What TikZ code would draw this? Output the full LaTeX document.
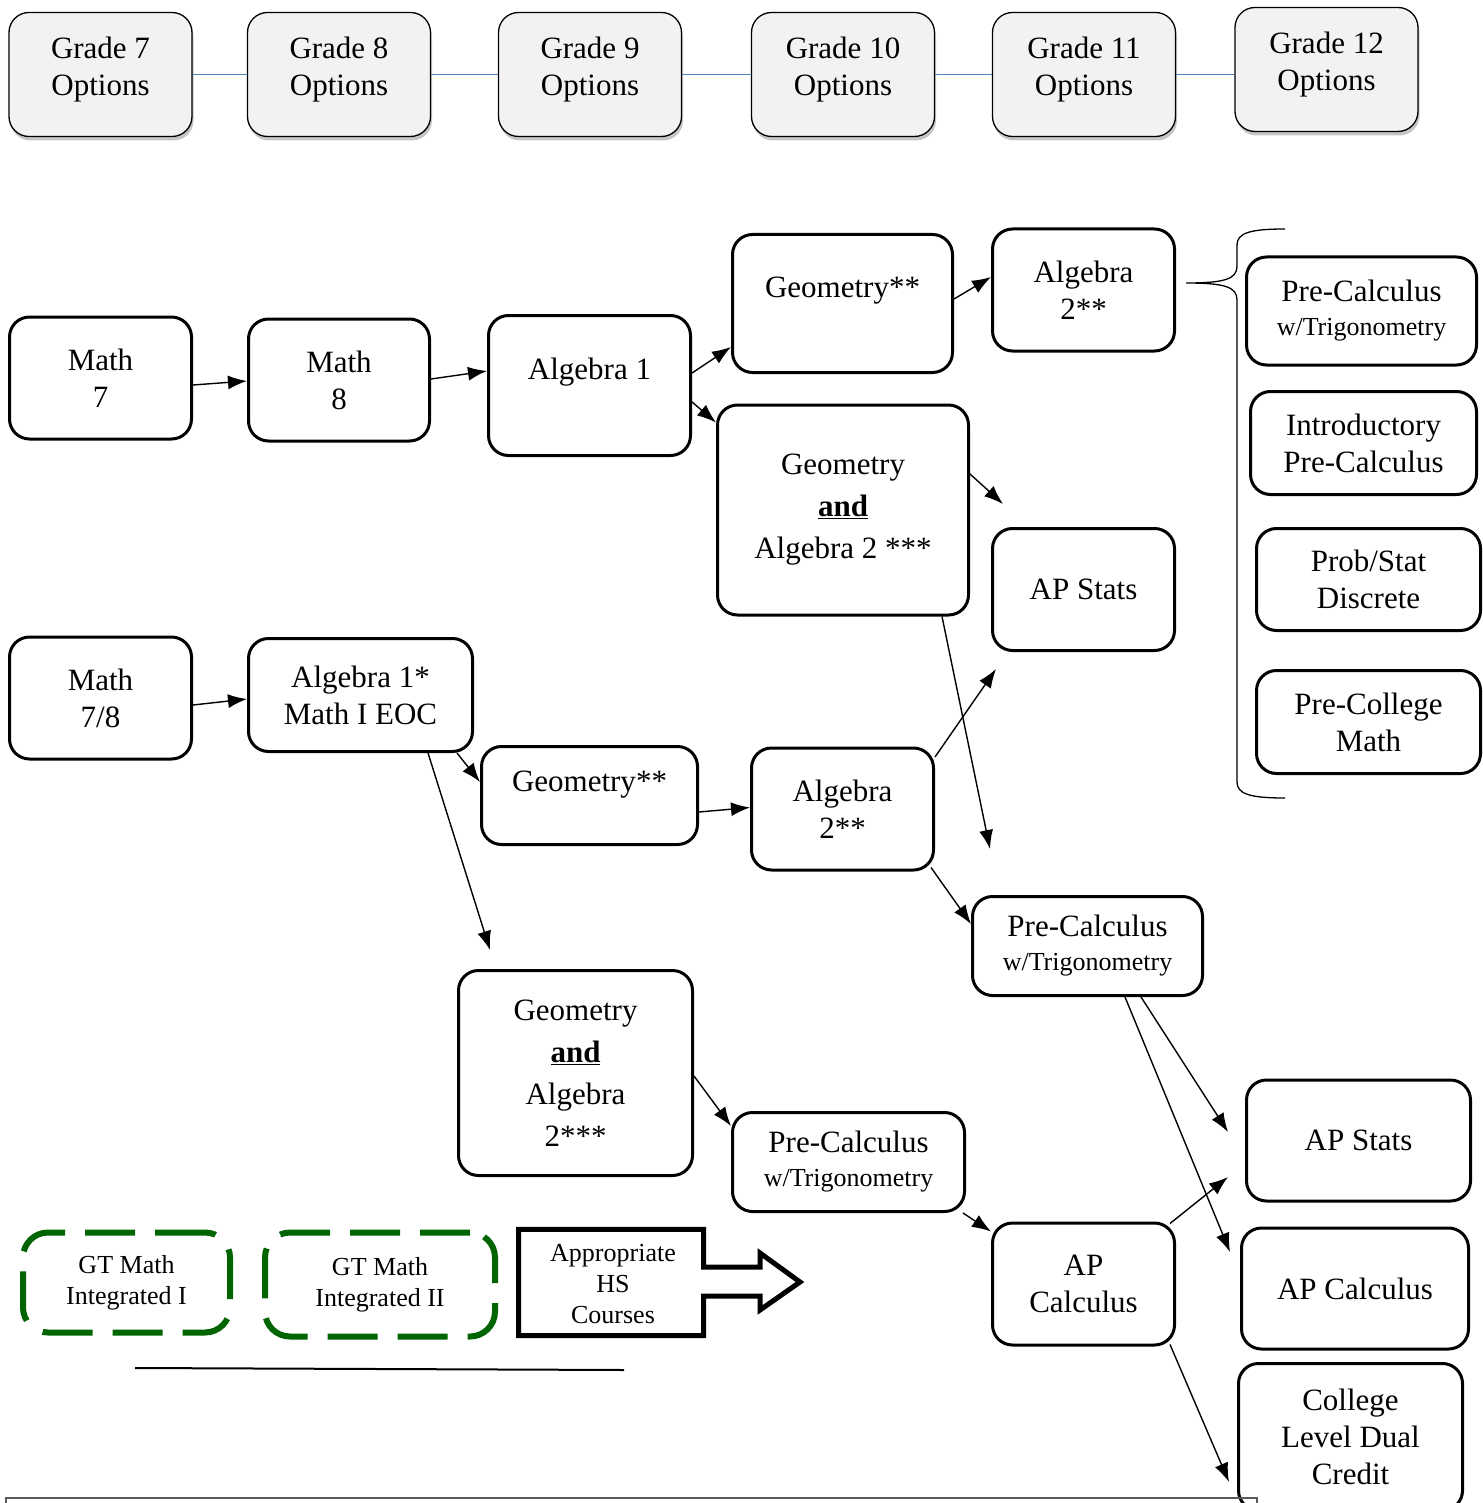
\documentclass[tikz,border=0pt]{standalone}
\usepackage{fontspec}
\setmainfont{Liberation Serif}
\usetikzlibrary{arrows.meta,shadows}
\definecolor{optfill}{RGB}{242,242,242}
\definecolor{optline}{RGB}{79,129,189}
\definecolor{gtgreen}{RGB}{0,100,0}
\newcommand{\bigfont}{\fontsize{31}{37}\selectfont}
\newcommand{\tallfont}{\fontsize{31}{42}\selectfont}
\newcommand{\smallfont}{\fontsize{26}{31}\selectfont}
\tikzset{
  boxsize/.style 2 args={minimum width=#1pt,minimum height=#2pt},
  grade/.style={draw,line width=1.3pt,fill=optfill,rounded corners=20pt,
    drop shadow={shadow xshift=1.5pt,shadow yshift=-4pt,fill=black!45},
    boxsize={183}{124},align=center,font=\bigfont,text depth=17pt},
  course/.style={draw,line width=3pt,rounded corners=20pt,align=center,font=\bigfont},
  gtbox/.style={draw=gtgreen,line width=6pt,dash pattern=on 50pt off 20pt,
    rounded corners=25pt,align=center,font=\smallfont},
  link/.style={->,line width=1.4pt},
}
\begin{document}
\begin{tikzpicture}[x=1pt,y=-1pt,>={Latex[length=19pt,width=14pt]}]
  \useasboundingbox (0,0) rectangle (1482,1503);
  % grade headers
  \node[grade] (g7) at (100.5,74.5) {Grade 7\\Options};
  \node[grade] (g8) at (339,74.5) {Grade 8\\Options};
  \node[grade] (g9) at (590,74.5) {Grade 9\\Options};
  \node[grade] (g10) at (843,74.5) {Grade 10\\Options};
  \node[grade] (g11) at (1084,74.5) {Grade 11\\Options};
  \node[grade] (g12) at (1326.5,69.5) {Grade 12\\Options};
  \draw[optline,line width=1.8pt] (g7.east) -- (g8.west);
  \draw[optline,line width=1.8pt] (g8.east) -- (g9.west);
  \draw[optline,line width=1.8pt] (g9.east) -- (g10.west);
  \draw[optline,line width=1.8pt] (g10.east) -- (g11.west);
  \draw[optline,line width=1.8pt] (g11.east) -- (g11.east -| g12.west);
  % upper track
  \node[course,boxsize={182}{122}] (math7) at (100.5,378) {Math\\7};
  \node[course,boxsize={181}{122}] (math8) at (339,380) {Math\\8};
  \node[course,boxsize={202}{140},text depth=33pt] (alg1) at (589.5,385.5) {Algebra 1};
  \node[course,boxsize={220}{138},text depth=33pt] (geoA) at (842.5,303.5) {Geometry**};
  \node[course,boxsize={182}{122}] (algA) at (1083.5,290) {Algebra\\2**};
  \node[course,boxsize={251}{210},font=\tallfont] (geoalgA) at (843,510)
    {Geometry\\\underline{\textbf{and}}\\Algebra 2 ***};
  \node[course,boxsize={182}{122}] (apsA) at (1083.5,589.5) {AP Stats};
  % grade 12 choices
  \node[course,boxsize={230}{108}] (pcR) at (1361.5,311)
    {Pre-Calculus\\[-3pt]{\smallfont w/Trigonometry}};
  \node[course,boxsize={226}{103}] (introR) at (1363.5,443) {Introductory\\Pre-Calculus};
  \node[course,boxsize={224}{102}] (probR) at (1368.5,579.5) {Prob/Stat\\Discrete};
  \node[course,boxsize={224}{103}] (pcolR) at (1368.5,722) {Pre-College\\Math};
  \draw[line width=1.3pt] (1285,229) .. controls (1250,229) and (1237,233) .. (1237,245)
    -- (1237,266) .. controls (1237,279) and (1225,283) .. (1186,283)
    .. controls (1225,283) and (1237,287) .. (1237,300)
    -- (1237,782) .. controls (1237,794) and (1250,798) .. (1285,798);
  % lower track
  \node[course,boxsize={182}{122}] (math78) at (100.5,698) {Math\\7/8};
  \node[course,boxsize={224}{113}] (alg1s) at (360.5,695) {Algebra 1*\\Math I EOC};
  \node[course,boxsize={216}{98},text depth=29pt] (geoB) at (589.5,795.5) {Geometry**};
  \node[course,boxsize={182}{122}] (algB) at (842.5,809) {Algebra\\2**};
  \node[course,boxsize={230}{99}] (pcB) at (1087.5,946)
    {Pre-Calculus\\[-3pt]{\smallfont w/Trigonometry}};
  \node[course,boxsize={234}{205},font=\tallfont] (geoalgB) at (575.5,1073)
    {Geometry\\\underline{\textbf{and}}\\Algebra\\2***};
  \node[course,boxsize={232}{99}] (pcC) at (848.5,1162)
    {Pre-Calculus\\[-3pt]{\smallfont w/Trigonometry}};
  \node[course,boxsize={182}{122}] (apcA) at (1083.5,1284) {AP\\Calculus};
  \node[course,boxsize={224}{121}] (apsB) at (1358.5,1140.5) {AP Stats};
  \node[course,boxsize={227}{121}] (apcB) at (1355,1288.5) {AP Calculus};
  \node[course,boxsize={224}{147}] (college) at (1350.5,1437) {College\\Level Dual\\Credit};
  % loose arrow ends
  \coordinate (apsAtop) at (1003,504);
  \coordinate (pcBtop) at (990,849);
  \coordinate (geoalgBtop) at (490,950);
  \coordinate (apsAlow) at (996,669);
  \coordinate (apsBtop) at (1228,1132);
  \coordinate (apcBtop) at (1230,1252);
  \coordinate (apsBlow) at (1228,1177);
  \coordinate (collegetop) at (1229,1482);
  \draw[link] ([yshift=-7pt]math7.east) -- ([yshift=-1pt]math8.west);
  \draw[link] ([yshift=1pt]math8.east) -- ([yshift=14.5pt]alg1.west);
  \draw[link] ([yshift=12.5pt]alg1.east) -- ([yshift=-43.5pt]geoA.west);
  \draw[link] ([yshift=-16.5pt]alg1.east) -- ([yshift=-19pt]geoalgA.north west);
  \draw[link] ([yshift=4.5pt]geoA.east) -- ([yshift=13pt]algA.west);
  \draw[link] ([yshift=36pt]geoalgA.east) -- (apsAtop);
  \draw[link] ([xshift=99pt]geoalgA.south) -- (pcBtop);
  \draw[link] ([yshift=-7pt]math78.east) -- ([yshift=-4pt]alg1s.west);
  \draw[link] ([xshift=96.5pt]alg1s.south) -- ([yshift=13.5pt]geoB.west);
  \draw[link] ([xshift=67.5pt]alg1s.south) -- (geoalgBtop);
  \draw[link] ([yshift=-16.5pt]geoB.east) -- ([yshift=1.5pt]algB.west);
  \draw[link] ([yshift=52pt]algB.east) -- (apsAlow);
  \draw[link] ([shift={(-4pt,4pt)}]algB.south east) -- ([yshift=22pt]pcB.west);
  \draw[link] ([yshift=-3pt]geoalgB.east) -- ([yshift=36pt]pcC.west);
  \draw[link] ([xshift=-3pt]pcC.south east) -- ([yshift=-10pt]apcA.north west);
  \draw[link] ([xshift=53.5pt]pcB.south) -- (apsBtop);
  \draw[link] ([xshift=37.5pt]pcB.south) -- (apcBtop);
  \draw[link] ([shift={(-6pt,-2pt)}]apcA.north east) -- (apsBlow);
  \draw[link] ([shift={(-6pt,2pt)}]apcA.south east) -- (collegetop);
  % gifted track
  \node[gtbox,boxsize={207}{100}] (gt1) at (126.5,1282.5) {GT Math\\Integrated I};
  \node[gtbox,boxsize={230}{104}] (gt2) at (380,1284.5) {GT Math\\Integrated II};
  \node[align=center,font=\smallfont,boxsize={185}{109}] (hs) at (613,1284)
    {Appropriate\\HS\\Courses};
  \draw[line width=5pt] (hs.north west -| 518.5,0) -- (hs.north east -| 703.5,0)
    |- (760,1267) -- (760,1253) -- (800,1282) -- (760,1310) -- (760,1296)
    -| (703.5,1335.5) -- (518.5,1335.5) -- cycle;
  \draw[line width=2pt] (135,1368) -- (624,1370);
  \draw[line width=2pt,black!65] (6,1515) -- (6,1498) -- (1257,1498) -- (1257,1515);
\end{tikzpicture}
\end{document}
